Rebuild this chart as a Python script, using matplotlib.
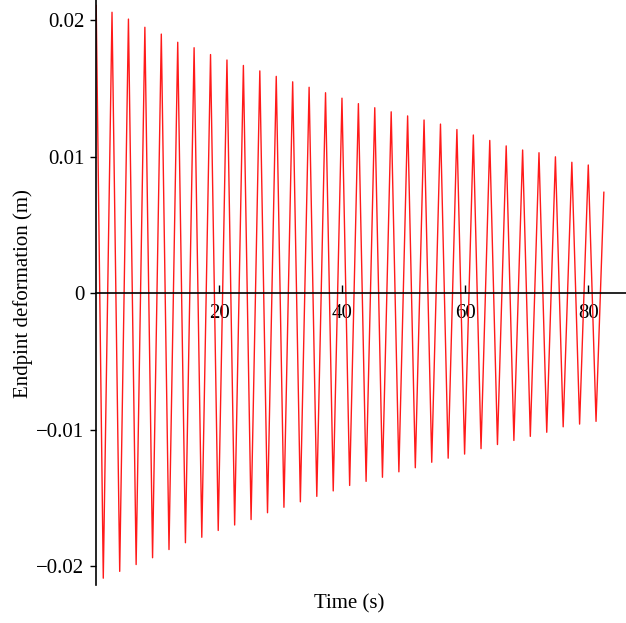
import matplotlib
matplotlib.use("Agg")
import matplotlib.pyplot as plt
import numpy as np

# ---- data ----
start_t, start_y = 0.0, 0.0211
end_t, end_y = 82.5, 0.0074

peak_t = [2.57, 5.24, 7.91, 10.58, 13.25, 15.91, 18.58, 21.25, 23.92, 26.59,
          29.26, 31.93, 34.60, 37.27, 39.94, 42.61, 45.27, 47.94, 50.61, 53.28,
          55.95, 58.62, 61.29, 63.96, 66.63, 69.30, 71.96, 74.63, 77.30, 79.97]
peak_y = [0.0206, 0.0201, 0.0195, 0.0190, 0.0184, 0.0180, 0.0175, 0.0171, 0.0167, 0.0163,
          0.0159, 0.0155, 0.0151, 0.0147, 0.0143, 0.0139, 0.0136, 0.0133, 0.0130, 0.0127,
          0.0124, 0.0120, 0.0116, 0.0112, 0.0108, 0.0105, 0.0103, 0.0100, 0.0096, 0.0094]

trough_t = [1.15, 3.82, 6.49, 9.16, 11.83, 14.50, 17.16, 19.83, 22.50, 25.17,
            27.84, 30.51, 33.18, 35.85, 38.52, 41.19, 43.86, 46.52, 49.19, 51.86,
            54.53, 57.20, 59.87, 62.54, 65.21, 67.88, 70.55, 73.22, 75.89, 78.56, 81.23]
trough_y = [-0.0209, -0.0204, -0.0199, -0.0194, -0.0188, -0.0183, -0.0179, -0.0174, -0.0170, -0.0166,
            -0.0161, -0.0157, -0.0153, -0.0149, -0.0145, -0.0141, -0.0138, -0.0135, -0.0131, -0.0128,
            -0.0124, -0.0121, -0.0118, -0.0114, -0.0111, -0.0108, -0.0105, -0.0102, -0.0098, -0.0096, -0.0094]

xticks = [20, 40, 60, 80]
xtick_labels = ["20", "40", "60", "80"]
yticks = [-0.02, -0.01, 0.0, 0.01, 0.02]
ytick_labels = ["\u22120.02", "\u22120.01", "0", "0.01", "0.02"]

# ---- assemble the series ----
t = np.concatenate([[start_t], peak_t, trough_t, [end_t]])
y = np.concatenate([[start_y], peak_y, trough_y, [end_y]])
order = np.argsort(t)
t, y = t[order], y[order]

plt.rcParams['font.family'] = ['Liberation Serif', 'DejaVu Serif']

fig = plt.figure(figsize=(6.26, 6.23), dpi=100)
ax = fig.add_axes([96.2 / 626, 38 / 623, (626 - 96.2) / 626, 585 / 623])

ax.plot(t, y, color='#ff1a1a', lw=1.0)

ax.set_xlim(0, 86.1)
ax.set_ylim(-0.0214, 0.0215)

ax.spines['top'].set_visible(False)
ax.spines['right'].set_visible(False)
ax.spines['bottom'].set_position(('data', 0))
ax.spines['left'].set_position(('data', 0))
for s in ('bottom', 'left'):
    ax.spines[s].set_linewidth(1.2)

ax.set_xticks(xticks)
ax.set_xticklabels(xtick_labels)
ax.set_yticks(yticks)
ax.set_yticklabels(ytick_labels)
ax.tick_params(axis='x', direction='in', length=6, width=1.0, pad=8, labelsize=15)
ax.tick_params(axis='y', direction='out', length=4.5, width=1.0, pad=4, labelsize=15)

ax.set_xlabel("Time (s)", fontsize=15)
ax.set_ylabel("Endpint deformation (m)", fontsize=15)
ax.xaxis.set_label_coords(0.478, -0.0154)
ax.yaxis.set_label_coords(-0.119, 0.499)

fig.savefig("out.png", dpi=100)
